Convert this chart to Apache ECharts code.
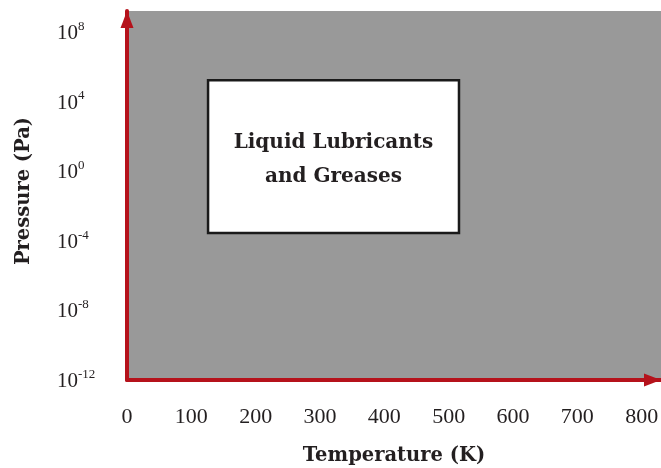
<!DOCTYPE html>
<html>
<head>
<meta charset="utf-8">
<script src="https://cdn.jsdelivr.net/npm/echarts@6/dist/echarts.min.js"></script>
<style>
html,body{margin:0;padding:0;background:#fff;}
#chart{width:661px;height:468px;}
</style>
</head>
<body>
<div id="chart"></div>
<script>
// Axis ranges
var temperatureRange = [0, 830];          // K
var pressureRange = [1e-12, 1.6e9];       // Pa
var temperatureTicks = [0, 100, 200, 300, 400, 500, 600, 700, 800];
var pressureTickExponents = [-12, -8, -4, 0, 4, 8];

// Region: Liquid Lubricants and Greases
var regionName = ['Liquid Lubricants', 'and Greases'];
var regionTemperature = [126, 516];       // K
var regionPressure = [2.8e-4, 1.7e5];     // Pa

var RED = '#b5121b';
var LABEL_FONT = '"Liberation Serif", "DejaVu Serif", serif';
var BOLD_FONT = '"DejaVu Serif", "Liberation Serif", serif';

var chart = echarts.init(document.getElementById('chart'), null, {renderer: 'canvas'});

var arrowLine = {
  show: true,
  lineStyle: {color: RED, width: 4},
  symbol: ['none', 'triangle'],
  symbolSize: [13, 17],
  symbolOffset: [0, -8.5]
};

var option = {
  animation: false,
  grid: {
    left: 127, right: 0, top: 11, bottom: 88,
    show: true, backgroundColor: '#999999', borderWidth: 0,
    containLabel: false, outerBoundsMode: 'none'
  },
  xAxis: {
    type: 'value',
    min: temperatureRange[0],
    max: temperatureRange[1],
    interval: 100,
    name: 'Temperature (K)',
    nameLocation: 'middle',
    nameGap: 66,
    nameTextStyle: {fontFamily: BOLD_FONT, fontWeight: 'bold', fontSize: 19.5, color: '#231f20'},
    axisLine: arrowLine,
    axisTick: {show: false},
    splitLine: {show: false},
    axisLabel: {
      margin: 26,
      fontFamily: LABEL_FONT,
      fontSize: 22,
      color: '#231f20',
      showMaxLabel: false,
      formatter: function (v) {
        return temperatureTicks.indexOf(v) >= 0 ? String(v) : '';
      }
    }
  },
  yAxis: {
    type: 'log',
    logBase: 10,
    min: pressureRange[0],
    max: pressureRange[1],
    interval: 4,
    name: 'Pressure (Pa)',
    nameLocation: 'middle',
    nameGap: 93,
    nameRotate: 90,
    nameTextStyle: {fontFamily: BOLD_FONT, fontWeight: 'bold', fontSize: 19.5, color: '#231f20', padding: [0, 0, 0, 9]},
    axisLine: arrowLine,
    axisTick: {show: false},
    splitLine: {show: false},
    axisLabel: {
      margin: 70,
      align: 'left',
      showMaxLabel: false,
      formatter: function (v) {
        var e = Math.round(Math.log(v) / Math.LN10);
        if (pressureTickExponents.indexOf(e) < 0) return '';
        return '{b|10}{s|' + e + '}';
      },
      rich: {
        b: {fontFamily: LABEL_FONT, fontSize: 21, color: '#231f20', verticalAlign: 'bottom', lineHeight: 24},
        s: {fontFamily: LABEL_FONT, fontSize: 13, color: '#231f20', verticalAlign: 'top', lineHeight: 24, padding: [0, 0, 8, 0]}
      }
    }
  },
  series: [{
    type: 'line',
    data: [],
    silent: true,
    markArea: {
      silent: true,
      itemStyle: {color: '#ffffff', borderColor: '#1a1a1a', borderWidth: 2.5, opacity: 1},
      label: {
        show: true,
        position: 'inside',
        offset: [0, 3],
        fontFamily: BOLD_FONT,
        fontWeight: 'bold',
        fontSize: 20,
        lineHeight: 34,
        color: '#231f20',
        align: 'center',
        formatter: regionName.join('\n')
      },
      data: [[
        {xAxis: regionTemperature[0], yAxis: regionPressure[1]},
        {xAxis: regionTemperature[1], yAxis: regionPressure[0]}
      ]]
    }
  }]
};
chart.setOption(option);
</script>
</body>
</html>
